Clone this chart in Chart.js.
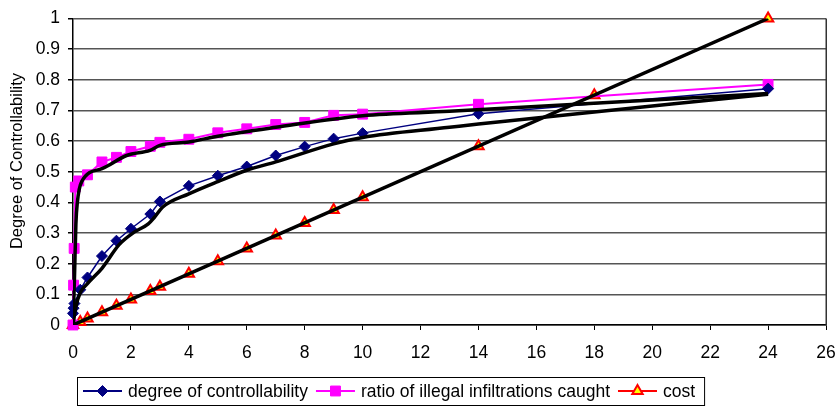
<!DOCTYPE html>
<html>
<head>
<meta charset="utf-8">
<script src="https://cdn.jsdelivr.net/npm/chart.js@4/dist/chart.umd.min.js"></script>
<style>
  html, body { margin: 0; padding: 0; background: #fff; }
</style>
</head>
<body>
<canvas id="controlChart" width="840" height="406"></canvas>
<script>
// Values
const ctrlX = [0, 0.02, 0.05, 0.25, 0.5, 1, 1.5, 2, 2.67, 3, 4, 5, 6, 7, 8, 9, 10, 14, 24];
const ctrlY = [0.038, 0.055, 0.07, 0.115, 0.155, 0.225, 0.275, 0.314, 0.362, 0.403, 0.454, 0.487, 0.517, 0.553, 0.582, 0.608, 0.626, 0.689, 0.771];

const caughtX = [0, 0.02, 0.04, 0.08, 0.2, 0.5, 1, 1.5, 2, 2.67, 3, 4, 5, 6, 7, 8, 9, 10, 14, 24];
const caughtY = [0.0, 0.13, 0.25, 0.45, 0.47, 0.49, 0.532, 0.547, 0.566, 0.583, 0.596, 0.606, 0.627, 0.64, 0.654, 0.661, 0.684, 0.688, 0.72, 0.785];

const costX = [0, 0.25, 0.5, 1, 1.5, 2, 2.67, 3, 4, 5, 6, 7, 8, 9, 10, 14, 18, 24];
const costY = [0, 0.01, 0.021, 0.042, 0.063, 0.083, 0.111, 0.125, 0.167, 0.208, 0.25, 0.292, 0.333, 0.375, 0.417, 0.583, 0.75, 1.0];

// thick black fitted curves (no legend entry)
const fitCtrlX = [0, 0.1, 0.25, 0.5, 1, 1.6, 2.1, 2.6, 2.8, 3.1, 4, 5, 6, 7, 9, 10, 13, 14, 24];
const fitCtrlY = [0, 0.06, 0.105, 0.135, 0.185, 0.263, 0.302, 0.33, 0.35, 0.385, 0.428, 0.468, 0.505, 0.532, 0.591, 0.612, 0.645, 0.656, 0.753];
const fitCaughtX = [0, 0.05, 0.1, 0.15, 0.3, 1, 1.85, 2.66, 3, 4, 5, 7, 10, 13, 24];
const fitCaughtY = [0, 0.15, 0.33, 0.40, 0.468, 0.51, 0.553, 0.57, 0.586, 0.597, 0.616, 0.645, 0.683, 0.697, 0.755];
const fitCostX = [0, 24];
const fitCostY = [0, 1];

const fontFamily = "'Liberation Sans', Arial, sans-serif";

const toPoints = function (xs, ys) {
    let pts = [];
    for (var i = 0; i < xs.length; i++) {
        pts.push({x: xs[i], y: ys[i]});
    }
    return pts;
};

const fitLine = function (xs, ys) {
    return {
        data: toPoints(xs, ys),
        borderColor: '#000',
        borderWidth: 3.5,
        pointRadius: 0,
        cubicInterpolationMode: 'monotone',
        order: 0,
        fit: true
    };
};

// frame on the right, y title and the boxed legend at the bottom
const frameAndLegend = {
    id: 'frameAndLegend',
    beforeDatasetsDraw(chart) {
        const ctx = chart.ctx, a = chart.chartArea;
        ctx.save();
        ctx.strokeStyle = '#333';
        ctx.lineWidth = 1.5;
        ctx.beginPath();
        ctx.moveTo(a.right + 0.25, a.top);
        ctx.lineTo(a.right + 0.25, a.bottom);
        ctx.stroke();
        ctx.restore();
    },
    afterDraw(chart) {
        const ctx = chart.ctx;
        ctx.save();
        ctx.fillStyle = '#000';
        ctx.font = '16.5px ' + fontFamily;
        ctx.translate(17, 161);
        ctx.rotate(-Math.PI / 2);
        ctx.textAlign = 'center';
        ctx.textBaseline = 'middle';
        ctx.fillText('Degree of Controllability', 0, 0);
        ctx.restore();

        ctx.save();
        ctx.font = '17.5px ' + fontFamily;
        ctx.textBaseline = 'middle';
        const cy = 391;
        let x = 83;
        chart.data.datasets.forEach(function (ds) {
            if (ds.fit) return;
            ctx.strokeStyle = ds.borderColor;
            ctx.lineWidth = 2;
            ctx.beginPath();
            ctx.moveTo(x, cy);
            ctx.lineTo(x + 39, cy);
            ctx.stroke();
            ctx.fillStyle = ds.pointBackgroundColor;
            ctx.strokeStyle = ds.pointBorderColor;
            ctx.lineWidth = ds.pointBorderWidth;
            Chart.helpers.drawPoint(ctx, {
                pointStyle: ds.pointStyle,
                radius: ds.pointRadius,
                rotation: 0,
                borderWidth: ds.pointBorderWidth
            }, x + 19.5, cy);
            ctx.fillStyle = '#000';
            ctx.fillText(ds.label, x + 45, cy + 1);
            x = x + 45 + ctx.measureText(ds.label).width + 8;
        });
        ctx.strokeStyle = '#000';
        ctx.lineWidth = 1;
        ctx.strokeRect(77.5, 377.5, x - 76, 28);
        ctx.restore();
    }
};

const element = document.getElementById('controlChart');
const controlChart = new Chart(element, {
    type: 'line',
    data: {
        datasets: [
            fitLine(fitCtrlX, fitCtrlY),
            fitLine(fitCaughtX, fitCaughtY),
            fitLine(fitCostX, fitCostY),
            {
                label: 'degree of controllability',
                data: toPoints(ctrlX, ctrlY),
                borderColor: '#000080',
                borderWidth: 1.5,
                pointStyle: 'rectRot',
                pointRadius: 5.5,
                pointBackgroundColor: '#000080',
                pointBorderColor: '#000080',
                pointBorderWidth: 1,
                order: 1,
                clip: false
            },
            {
                label: 'ratio of illegal infiltrations caught',
                data: toPoints(caughtX, caughtY),
                borderColor: '#ff00ff',
                borderWidth: 2,
                pointStyle: 'rect',
                pointRadius: 7,
                pointBackgroundColor: '#ff00ff',
                pointBorderColor: '#ff00ff',
                pointBorderWidth: 1,
                order: 1,
                clip: false
            },
            {
                label: 'cost',
                data: toPoints(costX, costY),
                borderColor: '#ff0000',
                borderWidth: 2,
                pointStyle: 'triangle',
                pointRadius: 6,
                pointBackgroundColor: '#ffff00',
                pointBorderColor: '#ff0000',
                pointBorderWidth: 2,
                order: 1,
                clip: false
            }
        ]
    },
    options: {
        responsive: false,
        animation: false,
        layout: {
            padding: {left: 0, right: 14, top: 15, bottom: 36}
        },
        plugins: {
            legend: {display: false},
            tooltip: {enabled: false}
        },
        scales: {
            x: {
                type: 'linear',
                min: 0,
                max: 26,
                afterFit: function (scale) {
                    scale.height = 45;
                    scale.paddingLeft = 0;
                    scale.paddingRight = 0;
                },
                ticks: {
                    stepSize: 2,
                    color: '#000',
                    padding: 12.5,
                    font: {family: fontFamily, size: 17.5}
                },
                grid: {
                    drawOnChartArea: false,
                    tickLength: 5,
                    color: '#000'
                },
                border: {color: '#000', width: 1.5}
            },
            y: {
                min: 0,
                max: 1,
                afterFit: function (scale) { scale.width = 73; },
                ticks: {
                    stepSize: 0.1,
                    color: '#000',
                    padding: 8,
                    font: {family: fontFamily, size: 17.5},
                    callback: function (value) { return String(Math.round(value * 10) / 10); }
                },
                grid: {
                    color: '#555',
                    lineWidth: 1.5,
                    tickLength: 5,
                    tickColor: '#000'
                },
                border: {color: '#000', width: 1.5}
            }
        }
    },
    plugins: [frameAndLegend]
});
</script>
</body>
</html>
